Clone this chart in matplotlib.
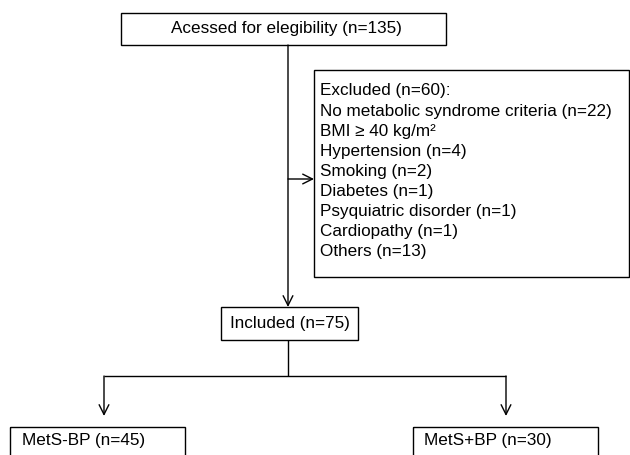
import matplotlib
matplotlib.use("Agg")
import matplotlib.pyplot as plt
from matplotlib.patches import Rectangle

plt.rcParams['font.family'] = ['Liberation Sans', 'DejaVu Sans']

top_label = "Acessed for elegibility (n=135)"
excluded_title = "Excluded (n=60):"
excluded_items = [
    "No metabolic syndrome criteria (n=22)",
    "BMI \u2265 40 kg/m\u00b2",
    "Hypertension (n=4)",
    "Smoking (n=2)",
    "Diabetes (n=1)",
    "Psyquiatric disorder (n=1)",
    "Cardiopathy (n=1)",
    "Others (n=13)",
]
included_label = "Included (n=75)"
group_labels = ["MetS-BP (n=45)", "MetS+BP (n=30)"]

W, H = 630, 455
fig = plt.figure(figsize=(W / 100, H / 100), dpi=100)
ax = fig.add_axes([0, 0, 1, 1])
ax.set_xlim(0, W)
ax.set_ylim(H, 0)
ax.axis('off')

lw = 1.0
fs = 12.3

def box(x0, y0, x1, y1):
    ax.add_patch(Rectangle((x0, y0), x1 - x0, y1 - y0, fill=False,
                           edgecolor='black', lw=lw, clip_on=False))

def line(xs, ys):
    ax.plot(xs, ys, color='black', lw=lw, solid_capstyle='butt')

def arrow(x0, y0, x1, y1):
    ax.annotate('', xy=(x1, y1), xytext=(x0, y0),
                arrowprops=dict(arrowstyle='->,head_length=0.7,head_width=0.35',
                                color='black', lw=lw, shrinkA=0, shrinkB=0))

# top box
box(121, 13, 446, 45)
ax.text(286, 29, top_label, ha='center', va='center', fontsize=fs)

# main vertical
arrow(288, 45, 288, 307)

# exclusion box
box(314, 70, 629, 277)
arrow(288, 179, 314, 179)
lines = [excluded_title] + excluded_items
y0 = 91
dy = 20.1
for i, t in enumerate(lines):
    ax.text(320, y0 + i * dy, t, ha='left', va='center', fontsize=fs)

# included box
box(221, 307, 358, 340)
ax.text(290, 323.5, included_label, ha='center', va='center', fontsize=fs)

# branch
line([288, 288], [340, 376])
line([104, 506], [376, 376])
arrow(104, 376, 104, 416)
arrow(506, 376, 506, 416)

# bottom boxes
box(10, 427, 185, 470)
box(413, 427, 598, 470)
ax.text(22, 441, group_labels[0], ha='left', va='center', fontsize=fs)
ax.text(424, 441, group_labels[1], ha='left', va='center', fontsize=fs)

fig.savefig('out.png', dpi=100)
